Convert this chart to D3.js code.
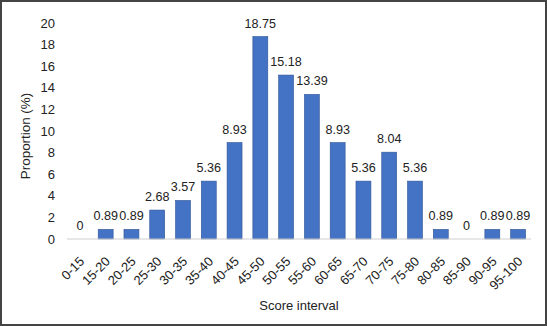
<!DOCTYPE html>
<html>
<head>
<meta charset="utf-8">
<script src="https://cdn.jsdelivr.net/npm/d3@7"></script>
<style>
  body { margin: 0; background: #fff; }
  svg { display: block; font-family: Arial, "Liberation Sans", sans-serif; }
</style>
</head>
<body>
<svg id="chart" width="547" height="326"></svg>
<script>
const categories = ["0-15", "15-20", "20-25", "25-30", "30-35", "35-40", "40-45", "45-50", "50-55",
  "55-60", "60-65", "65-70", "70-75", "75-80", "80-85", "85-90", "90-95", "95-100"];
const proportions = [0, 0.89, 0.89, 2.68, 3.57, 5.36, 8.93, 18.75, 15.18,
  13.39, 8.93, 5.36, 8.04, 5.36, 0.89, 0, 0.89, 0.89];
const yTicks = [0, 2, 4, 6, 8, 10, 12, 14, 16, 18, 20];

const svg = d3.select("#chart");
const width = +svg.attr("width");
const height = +svg.attr("height");
const margin = { top: 23, right: 16, bottom: 87, left: 67 };

// outer frame
svg.append("rect")
  .attr("x", 1).attr("y", 1)
  .attr("width", width - 2).attr("height", height - 2)
  .attr("fill", "#fff")
  .attr("stroke", "#444")
  .attr("stroke-width", 2);

const x = d3.scaleBand()
  .domain(categories)
  .range([margin.left, width - margin.right])
  .paddingInner(0.42)
  .paddingOuter(0.21);

const y = d3.scaleLinear()
  .domain([0, 20])
  .range([height - margin.bottom, margin.top]);

// y tick labels
svg.append("g")
  .selectAll("text")
  .data(yTicks)
  .join("text")
  .attr("x", margin.left - 12)
  .attr("y", d => y(d))
  .attr("dy", "0.35em")
  .attr("text-anchor", "end")
  .attr("font-size", 13)
  .attr("fill", "#222")
  .text(d => d);

// bars
svg.append("g")
  .selectAll("rect")
  .data(proportions)
  .join("rect")
  .attr("x", (d, i) => x(categories[i]))
  .attr("y", d => y(d))
  .attr("width", x.bandwidth())
  .attr("height", d => y(0) - y(d))
  .attr("fill", "#4472C4")
  .attr("stroke", "#2F5597")
  .attr("stroke-width", 0.6);

// baseline
svg.append("line")
  .attr("x1", margin.left).attr("x2", width - margin.right)
  .attr("y1", y(0)).attr("y2", y(0))
  .attr("stroke", "#d0d0d0")
  .attr("stroke-width", 1.2);

// value labels
svg.append("g")
  .selectAll("text")
  .data(proportions)
  .join("text")
  .attr("x", (d, i) => x(categories[i]) + x.bandwidth() / 2)
  .attr("y", d => y(d) - 9)
  .attr("text-anchor", "middle")
  .attr("font-size", 12.6)
  .attr("fill", "#222")
  .text(d => d);

// x tick labels
svg.append("g")
  .selectAll("text")
  .data(categories)
  .join("text")
  .attr("transform", d => `translate(${x(d) + x.bandwidth() / 2 + 2},${y(0) + 20}) rotate(-45)`)
  .attr("text-anchor", "end")
  .attr("dy", "0.35em")
  .attr("font-size", 13)
  .attr("fill", "#222")
  .text(d => d);

// axis titles
svg.append("text")
  .attr("x", (margin.left + width - margin.right) / 2)
  .attr("y", 310)
  .attr("text-anchor", "middle")
  .attr("font-size", 13)
  .attr("fill", "#222")
  .text("Score interval");

svg.append("text")
  .attr("transform", `translate(30,136) rotate(-90)`)
  .attr("text-anchor", "middle")
  .attr("font-size", 13.4)
  .attr("fill", "#222")
  .text("Proportion (%)");
</script>
</body>
</html>
